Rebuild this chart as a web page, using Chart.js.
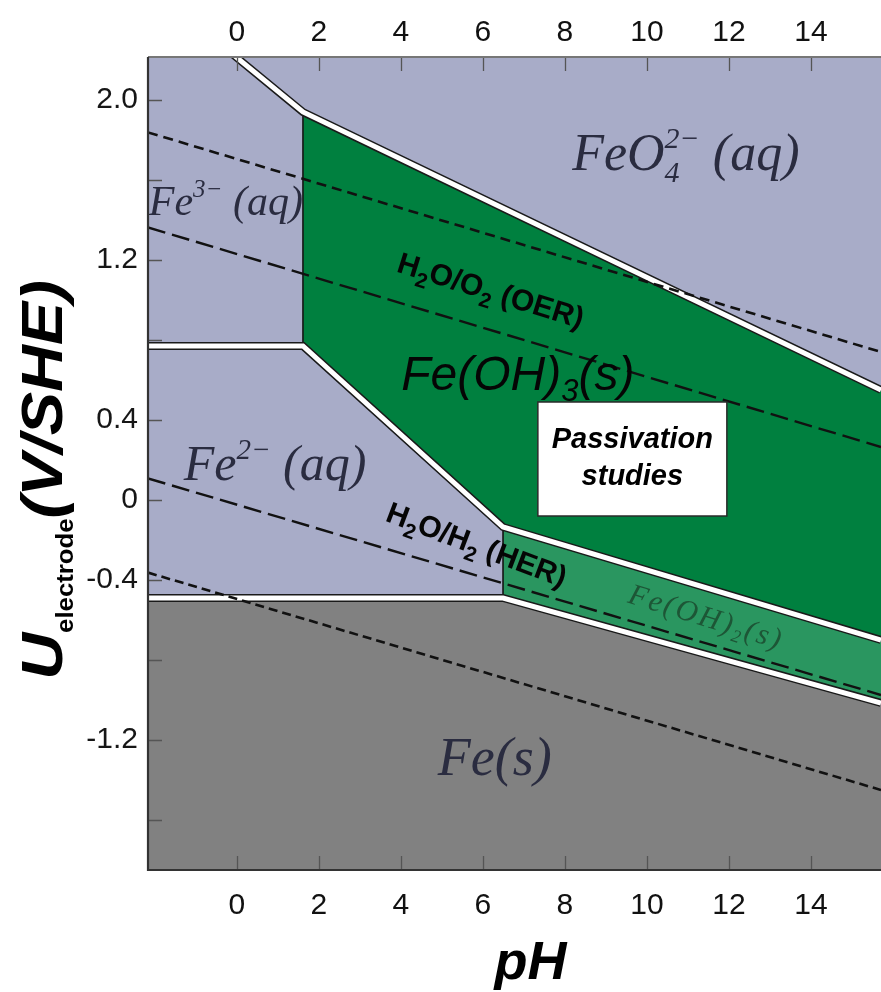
<!DOCTYPE html>
<html><head><meta charset="utf-8">
<script src="https://cdn.jsdelivr.net/npm/chart.js@4.4.1/dist/chart.umd.min.js"></script>
<style>html,body{margin:0;padding:0;background:#fff;}canvas{display:block;}</style>
</head><body>
<canvas id="c" width="881" height="992"></canvas>
<script>
// ---------- values (pH, U in V vs SHE) ----------
const xTickValues = [0, 2, 4, 6, 8, 10, 12, 14];
const xTickLabels = ['0', '2', '4', '6', '8', '10', '12', '14'];
const yTickValues = [-1.6, -1.2, -0.8, -0.4, 0, 0.4, 0.8, 1.2, 1.6, 2.0];
const yTickLabels = ['', '-1.2', '', '-0.4', '0', '0.4', '', '1.2', '', '2.0'];

// Fe3+ / Fe(OH)3  vs  FeO4 2-
const feo4BoundaryPH = [-0.2, 1.61, 15.71];
const feo4BoundaryU  = [2.245, 1.94, 0.55];
// Fe3+/Fe2+ , Fe2+/Fe(OH)3 , Fe(OH)2/Fe(OH)3
const fe2BoundaryPH = [-2.17, 1.61, 6.49, 15.71];
const fe2BoundaryU  = [0.77, 0.77, -0.135, -0.70];
// Fe2+/Fe , Fe(OH)2/Fe
const feBoundaryPH = [-2.17, 6.49, 15.71];
const feBoundaryU  = [-0.49, -0.49, -1.015];
// vertical boundaries
const fe3HydroxPH = [1.61, 1.61];
const fe3HydroxU  = [1.94, 0.77];
const fe2HydroxPH = [6.49, 6.49];
const fe2HydroxU  = [-0.135, -0.49];
// water stability / overpotential lines
const waterLinePH = [-2.17, 15.71];
const upperDashU  = [1.838, 0.74];
const oerU        = [1.363, 0.265];
const herU        = [0.108, -0.975];
const lowerDashU  = [-0.363, -1.45];

const phMin = -2.17, phMax = 15.71, uMin = -1.85, uMax = 2.215;

// ---------- colours ----------
const colLav = '#A8ACC8', colGreen3 = '#00803F', colGreen2 = '#2A9660', colGrey = '#818181';

const pts = (xs, ys, from = -Infinity) =>
  xs.map((x, i) => ({x, y: ys[i]})).filter(p => p.x >= from);

function area(data, color, order) {
  return {data, borderWidth: 0, backgroundColor: color, fill: 'start', order, clip: 0, pointRadius: 0};
}
function line(data, color, width, order, dash) {
  return {data, borderColor: color, borderWidth: width, fill: false, order, clip: 0,
          pointRadius: 0, borderDash: dash || [], borderJoinStyle: 'miter', borderCapStyle: 'butt'};
}

const datasets = [
  area(pts(feo4BoundaryPH, feo4BoundaryU, 1.61), colGreen3, 10),
  area(pts(fe2BoundaryPH, fe2BoundaryU), colLav, 9),
  area(pts(fe2BoundaryPH, fe2BoundaryU, 6.49), colGreen2, 8),
  area(pts(feBoundaryPH, feBoundaryU), colGrey, 7),
  line(pts(fe3HydroxPH, fe3HydroxU), '#151515', 1.6, 6),
  line(pts(fe2HydroxPH, fe2HydroxU), '#151515', 1.6, 6),
  line(pts(feo4BoundaryPH, feo4BoundaryU), '#1a1a1a', 8, 5),
  line(pts(fe2BoundaryPH, fe2BoundaryU), '#1a1a1a', 8, 5),
  line(pts(feBoundaryPH, feBoundaryU), '#1a1a1a', 8, 5),
  line(pts(feo4BoundaryPH, feo4BoundaryU), '#ffffff', 5, 4),
  line(pts(fe2BoundaryPH, fe2BoundaryU), '#ffffff', 5, 4),
  line(pts(feBoundaryPH, feBoundaryU), '#ffffff', 5, 4),
  line(pts(waterLinePH, upperDashU), '#111', 2.6, 2, [10, 6]),
  line(pts(waterLinePH, oerU), '#111', 2.4, 2, [18, 7]),
  line(pts(waterLinePH, herU), '#111', 2.4, 2, [18, 7]),
  line(pts(waterLinePH, lowerDashU), '#111', 2.6, 2, [9, 5])
];

// ---------- rich text helper ----------
function richText(ctx, runs, cx, by, o) {
  const base = {size: o.size, style: o.style || 'normal', weight: o.weight || 'normal', family: o.family};
  let w = 0; const items = [];
  for (const r0 of runs) {
    const r = typeof r0 === 'string' ? {t: r0} : r0;
    const f = `${r.style || base.style} ${r.weight || base.weight} ${r.size || base.size}px ${base.family}`;
    ctx.font = f;
    ctx.letterSpacing = (o.spacing || 0) + 'px';
    const ww = ctx.measureText(r.t).width;
    items.push({t: r.t, x: w, dy: r.dy || 0, f});
    if (!r.noAdv) w += ww;
  }
  ctx.save();
  ctx.translate(cx, by);
  if (o.rot) ctx.rotate(o.rot);
  if (o.sx) ctx.scale(o.sx, 1);
  ctx.fillStyle = o.color;
  ctx.textBaseline = 'alphabetic';
  ctx.textAlign = 'left';
  const x0 = o.align === 'left' ? 0 : -w / 2;
  for (const it of items) {
    ctx.font = it.f;
    ctx.letterSpacing = (o.spacing || 0) + 'px';
    ctx.fillText(it.t, x0 + it.x, it.dy);
  }
  ctx.restore();
  ctx.letterSpacing = '0px';
}

const SERIF = '"Liberation Serif", "Times New Roman", serif';
const SANS = '"Liberation Sans", Arial, sans-serif';

const overlay = {
  id: 'overlay',
  beforeDraw(chart) {
    const {ctx, chartArea: a} = chart;
    ctx.save();
    ctx.fillStyle = colLav;
    ctx.fillRect(a.left, a.top, a.right - a.left, a.bottom - a.top);
    ctx.restore();
  },
  afterDatasetsDraw(chart) {
    const {ctx, chartArea: a, scales} = chart;
    const X = v => scales.x.getPixelForValue(v), Y = v => scales.y.getPixelForValue(v);
    ctx.save();
    ctx.beginPath(); ctx.rect(a.left, a.top, a.right - a.left, a.bottom - a.top); ctx.clip();
    // region labels
    const serifCol = '#2a2c40';
    richText(ctx, ['FeO', {t: '4', size: 30, dy: 12, noAdv: true}, {t: '2−', size: 30, dy: -22}, ' (aq)'],
      X(10.95), Y(1.65), {size: 52, style: 'italic', family: SERIF, color: serifCol});
    richText(ctx, ['Fe', {t: '3−', size: 25, dy: -18}, ' (aq)'],
      X(-0.27), Y(1.425), {size: 42, style: 'italic', family: SERIF, color: serifCol});
    richText(ctx, ['Fe', {t: '2−', size: 29, dy: -21}, ' (aq)'],
      X(0.93), Y(0.10), {size: 50, style: 'italic', family: SERIF, color: serifCol});
    richText(ctx, ['Fe(s)'], X(6.29), Y(-1.375), {size: 54, style: 'italic', family: SERIF, color: serifCol});
    richText(ctx, ['Fe(OH', {t: ')'}, {t: '2', size: 18, dy: 6}, '(s)'],
      X(11.38), Y(-0.63), {size: 30, style: 'italic', family: SERIF, color: '#1d5636', rot: 0.3, spacing: 2.5});
    richText(ctx, ['Fe(OH)', {t: '3', size: 31, dy: 11}, '(s)'],
      X(6.85), Y(0.55), {size: 48, style: 'italic', family: SANS, color: '#050505'});
    richText(ctx, ['H', {t: '2', size: 21, dy: 8}, 'O/O', {t: '2', size: 21, dy: 8}, ' (OER)'],
      X(6.12), Y(1.0), {size: 30, weight: 'bold', family: SANS, color: '#050505', rot: 0.3});
    richText(ctx, ['H', {t: '2', size: 21, dy: 8}, 'O/H', {t: '2', size: 21, dy: 8}, ' (HER)'],
      X(5.76), Y(-0.27), {size: 30, weight: 'bold', family: SANS, color: '#050505', rot: 0.36});
    // passivation box
    const bx0 = X(7.34), bx1 = X(11.95), by0 = Y(0.49), by1 = Y(-0.08);
    ctx.fillStyle = '#ffffff';
    ctx.fillRect(bx0, by0, bx1 - bx0, by1 - by0);
    ctx.strokeStyle = '#2a2a2a'; ctx.lineWidth = 1.5;
    ctx.strokeRect(bx0, by0, bx1 - bx0, by1 - by0);
    const bcx = (bx0 + bx1) / 2;
    richText(ctx, ['Passivation'], bcx, Y(0.26), {size: 29, style: 'italic', weight: 'bold', family: SANS, color: '#000'});
    richText(ctx, ['studies'], bcx, Y(0.075), {size: 29, style: 'italic', weight: 'bold', family: SANS, color: '#000'});
    ctx.restore();

    // inward tick marks
    ctx.save();
    ctx.strokeStyle = '#555'; ctx.lineWidth = 1.3;
    ctx.beginPath();
    for (const v of xTickValues) {
      const px = Math.round(X(v)) + 0.5;
      ctx.moveTo(px, a.bottom); ctx.lineTo(px, a.bottom - 14);
      ctx.moveTo(px, a.top); ctx.lineTo(px, a.top + 14);
    }
    for (const v of yTickValues) {
      const py = Math.round(Y(v)) + 0.5;
      ctx.moveTo(a.left, py); ctx.lineTo(a.left + 14, py);
    }
    ctx.stroke();
    // frame
    ctx.lineWidth = 2; ctx.strokeStyle = '#777';
    ctx.beginPath(); ctx.moveTo(a.left, a.top); ctx.lineTo(a.right, a.top); ctx.stroke();
    ctx.strokeStyle = '#333'; ctx.lineWidth = 2.2;
    ctx.beginPath(); ctx.moveTo(a.left, a.top); ctx.lineTo(a.left, a.bottom); ctx.lineTo(a.right, a.bottom); ctx.stroke();
    ctx.restore();
  },
  afterDraw(chart) {
    const {ctx, chartArea: a} = chart;
    // y axis title
    ctx.save();
    ctx.translate(a.left - 86, 480);
    ctx.rotate(-Math.PI / 2);
    richText(ctx, ['U', {t: 'electrode', size: 23, style: 'normal', dy: 11}, '(V/SHE)'], 0, 0,
      {size: 58, style: 'italic', weight: 'bold', family: SANS, color: '#000', sx: 1.12});
    ctx.restore();
    // x axis title
    richText(ctx, ['pH'], (a.left + a.right) / 2 + 16, 979,
      {size: 54, style: 'italic', weight: 'bold', family: SANS, color: '#000'});
  }
};

const tickFont = {family: SANS, size: 30};
const xAxis = (pos, h, pad) => ({
  type: 'linear', position: pos, min: phMin, max: phMax,
  afterBuildTicks: s => { s.ticks = xTickValues.map(v => ({value: v})); },
  afterFit: s => { s.height = h; },
  grid: {display: false, drawTicks: false}, border: {display: false},
  ticks: {font: tickFont, color: '#111', padding: pad, autoSkip: false, maxRotation: 0,
          callback: v => xTickLabels[xTickValues.indexOf(v)]}
});

new Chart(document.getElementById('c').getContext('2d'), {
  type: 'line',
  data: {datasets},
  options: {
    responsive: false, animation: false, devicePixelRatio: 1,
    layout: {padding: 0},
    plugins: {legend: {display: false}, tooltip: {enabled: false}},
    elements: {point: {radius: 0}, line: {tension: 0}},
    scales: {
      x: xAxis('bottom', 122, 18),
      xTop: xAxis('top', 57, 6),
      y: {
        type: 'linear', position: 'left', min: uMin, max: uMax,
        afterBuildTicks: s => { s.ticks = yTickValues.map(v => ({value: v})); },
        afterFit: s => { s.width = 148; },
        grid: {display: false, drawTicks: false}, border: {display: false},
        ticks: {font: tickFont, color: '#161616', padding: 10, autoSkip: false,
                callback: v => { const i = yTickValues.findIndex(t => Math.abs(t - v) < 1e-9); return i < 0 ? '' : yTickLabels[i]; }}
      }
    }
  },
  plugins: [overlay]
});
</script>
</body></html>
